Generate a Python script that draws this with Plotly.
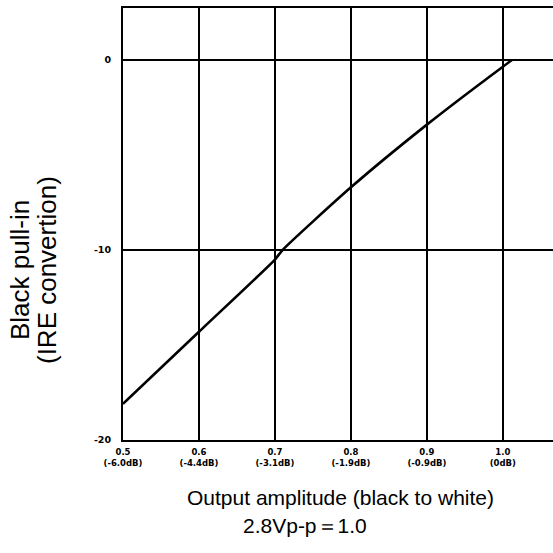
import plotly.graph_objects as go

# Measured black pull-in vs. output amplitude
amplitude = [0.5, 0.6, 0.7, 0.71, 0.8, 0.9, 1.0, 1.012]
pull_in = [-18.1, -14.3, -10.5, -10.0, -6.7, -3.4, -0.35, 0.0]

x_ticks = [0.5, 0.6, 0.7, 0.8, 0.9, 1.0]
x_tick_text = ["0.5<br>(-6.0dB)", "0.6<br>(-4.4dB)", "0.7<br>(-3.1dB)",
               "0.8<br>(-1.9dB)", "0.9<br>(-0.9dB)", "1.0<br>(0dB)"]
y_ticks = [0, -10, -20]
y_tick_text = ["0", "-10", "-20"]

fig = go.Figure()
fig.add_trace(go.Scatter(
    x=amplitude, y=pull_in, mode="lines",
    line=dict(color="black", width=2.6, shape="spline", smoothing=0.6),
    showlegend=False, hoverinfo="skip",
))


def title_line(text, x, y, size, angle=0):
    return dict(text=text, xref="paper", yref="paper", x=x, y=y,
                xanchor="center", yanchor="middle", textangle=angle,
                showarrow=False, font=dict(size=size))


fig.update_layout(
    width=553, height=553,
    margin=dict(l=123, r=0, t=8, b=113),
    paper_bgcolor="white", plot_bgcolor="white",
    font=dict(family="Liberation Sans, Arial, sans-serif", color="black"),
    xaxis=dict(
        range=[0.5, 1.066], tickvals=x_ticks, ticktext=x_tick_text,
        showgrid=True, gridcolor="black", gridwidth=1.6,
        showline=True, linecolor="black", linewidth=2, mirror=True,
        zeroline=False, ticks="", ticklabelstandoff=3,
        tickfont=dict(size=8.5, family="DejaVu Sans, sans-serif", weight="bold"),
    ),
    yaxis=dict(
        range=[-20, 2.74], tickvals=y_ticks, ticktext=y_tick_text,
        showgrid=True, gridcolor="black", gridwidth=2,
        showline=True, linecolor="black", linewidth=2,
        zeroline=False, ticks="", ticklabelstandoff=8,
        tickfont=dict(size=9.5, family="DejaVu Sans, sans-serif", weight="bold"),
    ),
    annotations=[
        title_line("Black pull-in", -0.2395, 0.3935, 26, -90),
        title_line("(IRE convertion)", -0.1767, 0.3935, 26, -90),
        title_line("Output amplitude (black to white)", 0.505, -0.132, 21),
        title_line("2.8Vp-p＝1.0", 0.423, -0.197, 21),
    ],
)

fig.write_html("out.html")
